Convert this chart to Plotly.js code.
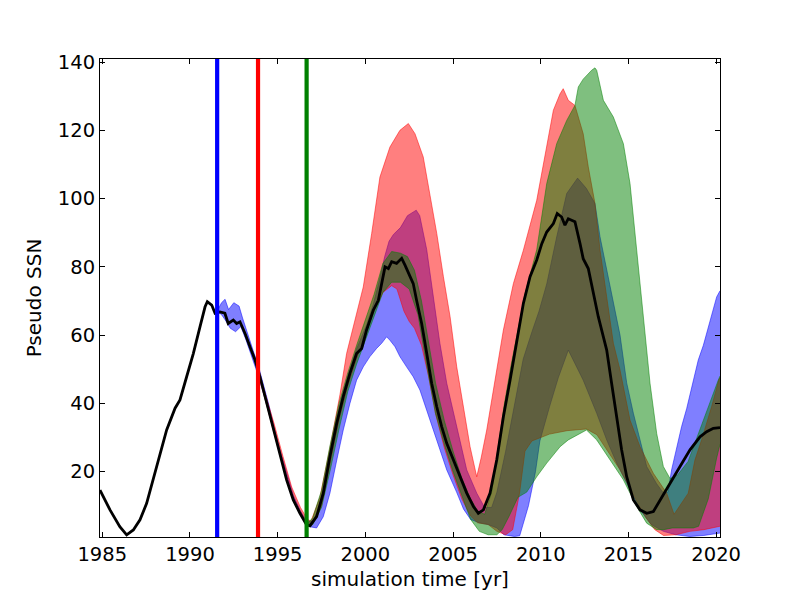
<!DOCTYPE html>
<html><head><meta charset="utf-8">
<script src="https://cdn.plot.ly/plotly-3.0.1.min.js"></script>
<style>html,body{margin:0;padding:0;background:#fff;} #chart{width:800px;height:597px;}</style>
</head><body><div id="chart"></div>
<script>
// observed / reference pseudo SSN  [year, value]
const blackObs = [[1984.87,14.6],[1985.44,8.8],[1986.0,3.9],[1986.39,1.5],[1986.77,2.9],[1987.15,5.9],[1987.53,10.7],[1987.9,17.6],[1988.29,25.4],[1988.67,32.2],[1989.15,38.6],[1989.43,41.0],[1989.81,47.8],[1990.19,54.6],[1990.57,62.4],[1990.86,68.3],[1990.99,69.8],[1991.24,68.8],[1991.43,66.4],[1991.71,66.8],[1991.99,66.4],[1992.18,63.4],[1992.47,64.4],[1992.66,63.4],[1992.85,63.9],[1993.14,60.5],[1993.42,56.6],[1993.71,52.7],[1993.99,47.8],[1994.28,42.0],[1994.56,36.1],[1994.85,30.2],[1995.13,24.4],[1995.51,17.6],[1995.89,11.7],[1996.27,7.8],[1996.65,4.4],[1996.84,4.1],[1997.22,6.8],[1997.6,13.7],[1997.98,24.4],[1998.37,34.2],[1998.74,42.0],[1999.12,48.8],[1999.5,54.6],[1999.79,56.1],[2000.07,61.5],[2000.45,67.3],[2000.74,70.2],[2000.93,75.1],[2001.12,80.0],[2001.31,79.5],[2001.5,81.5],[2001.78,81.0],[2002.07,82.5],[2002.26,80.5],[2002.45,78.1],[2002.73,75.1],[2002.92,70.2],[2003.21,63.4],[2003.5,54.6],[2003.78,45.9],[2004.07,39.0],[2004.35,33.2],[2004.64,28.3],[2005.02,23.4],[2005.4,18.5],[2005.78,13.7],[2006.16,9.8],[2006.44,7.8],[2006.73,8.8],[2007.11,13.7],[2007.49,23.4],[2007.87,36.1],[2008.25,46.8],[2008.63,58.5],[2009.01,69.3],[2009.39,77.1],[2009.77,82.0],[2010.06,86.8],[2010.34,90.2],[2010.72,92.7],[2010.94,95.6],[2011.19,94.6],[2011.38,92.2],[2011.57,94.1],[2011.95,93.2],[2012.24,86.8],[2012.42,82.4],[2012.71,79.5],[2013.0,72.2],[2013.28,65.4],[2013.57,59.5],[2013.76,55.6],[2014.04,45.9],[2014.33,36.1],[2014.61,26.4],[2014.9,18.5],[2015.28,11.7],[2015.66,8.8],[2016.04,7.8],[2016.42,8.3],[2016.8,11.7],[2017.37,16.6],[2017.94,21.5],[2018.51,26.4],[2019.08,30.2],[2019.46,31.7],[2019.84,32.7],[2020.22,32.9]];

// blue ensemble (start 1991.55) envelope
const blueLower = [[1991.55,67],[1991.8,66],[1992.0,64.5],[1992.3,62],[1992.6,61],[1992.9,62.5],[1993.2,58.5],[1993.5,54],[1993.9,48],[1994.3,41],[1994.8,31.5],[1995.3,22],[1995.8,13.5],[1996.3,8],[1996.65,4.5],[1996.9,3.8],[1997.22,3.5],[1997.6,6.8],[1997.98,13.7],[1998.37,23.4],[1998.74,32.2],[1999.12,40],[1999.5,46.8],[1999.88,50.7],[2000.26,53.7],[2000.64,56.1],[2000.93,57.6],[2001.21,59.5],[2001.4,58.5],[2001.69,56.6],[2001.97,53.7],[2002.35,50.7],[2002.73,47.8],[2003.11,43.9],[2003.5,38.1],[2003.87,32.2],[2004.25,26.4],[2004.64,20.5],[2005.2,14],[2005.6,9],[2006.0,6],[2006.5,5],[2007.0,4.5],[2007.5,3.5],[2007.9,1.5],[2008.5,1],[2008.8,1.2],[2009.3,10],[2009.7,20],[2009.95,29],[2010.5,39],[2011.0,47.5],[2011.57,55.6],[2012.42,46.8],[2013.19,37.1],[2013.76,29.3],[2014.33,22.5],[2015.09,14.6],[2015.66,8.8],[2016.3,4.5],[2017.0,2.5],[2017.7,1.5],[2018.5,1],[2019.3,1.3],[2020.22,2]];
const blueUpper = [[1991.55,67],[1991.8,69.5],[1992.0,70.5],[1992.2,67.5],[1992.5,69.5],[1992.8,68.5],[1993.0,65],[1993.3,60],[1993.6,55.5],[1993.9,51],[1994.2,45.5],[1994.5,39.5],[1994.8,33],[1995.1,27],[1995.5,20],[1995.9,13],[1996.3,8.5],[1996.65,5.5],[1997.0,5.5],[1997.3,8.5],[1997.6,14.5],[1997.98,25.5],[1998.37,35.5],[1998.74,43.5],[1999.12,50],[1999.5,56],[2000.07,63],[2000.45,69],[2000.8,76],[2001.1,83],[2001.35,87.5],[2001.6,89.5],[2002.0,91.5],[2002.4,95],[2002.9,96.6],[2003.1,95],[2003.5,85],[2003.87,71.2],[2004.25,57.6],[2004.64,45.9],[2005.2,33.2],[2005.78,20.5],[2006.35,13.7],[2006.8,9.5],[2007.2,9.5],[2007.5,14],[2008.0,26],[2008.5,40],[2009.0,53],[2009.5,61],[2009.9,67],[2010.34,75],[2010.91,88.8],[2011.48,101.5],[2012.1,106],[2012.6,103],[2013.09,98.6],[2013.38,88.8],[2013.76,79],[2014.14,69.3],[2014.52,60],[2014.9,46],[2015.28,37.1],[2016.04,21.5],[2016.6,16.5],[2017.0,13.7],[2017.25,14],[2017.46,20.5],[2018.03,33.2],[2018.32,38.5],[2018.6,44.5],[2018.98,52.7],[2019.27,57],[2020.03,71.2],[2020.22,73]];

// red ensemble (start 1993.88) envelope
const redLower = [[1993.88,49],[1994.3,41],[1994.8,31],[1995.3,21.5],[1995.8,13],[1996.3,8],[1996.7,4.5],[1997.0,5],[1997.5,10],[1998.0,22],[1998.5,35],[1999.0,45],[1999.5,53],[2000.0,60],[2000.5,67],[2001.0,72.5],[2001.5,74.5],[2001.8,73.5],[2002.2,67],[2002.5,64],[2002.8,62],[2003.2,57],[2003.6,48],[2004.0,37],[2004.5,27],[2005.0,19],[2005.5,12],[2006.0,7],[2006.4,5],[2007.0,4.5],[2007.5,2.5],[2008.0,1.5],[2008.4,3],[2008.8,14],[2009.1,26],[2009.5,29],[2010.0,30],[2010.5,31],[2011.5,32],[2012.6,32.5],[2013.2,30.8],[2013.9,25.2],[2014.5,20.7],[2015.0,16],[2015.5,11],[2016.0,6.5],[2016.5,3],[2017.0,1.3],[2017.7,1.5],[2018.5,2.5],[2019.3,3],[2020.22,4]];
const redUpper = [[1993.88,50],[1994.3,43],[1994.8,34],[1995.3,24.5],[1995.8,15.5],[1996.3,9.5],[1996.7,6],[1996.9,5.5],[1997.41,12.5],[1997.98,27],[1998.55,42.5],[1998.93,54.6],[1999.31,62.4],[1999.88,74.1],[2000.36,89.8],[2000.83,106.3],[2001.4,115.1],[2001.97,120],[2002.45,122],[2002.83,119],[2003.3,112.2],[2003.68,101.5],[2004.07,89.8],[2004.45,77.1],[2004.83,65.4],[2005.21,50.7],[2005.59,39],[2005.97,27.3],[2006.35,18.5],[2006.6,24],[2006.92,32.2],[2007.58,51.7],[2007.87,61.5],[2008.44,75.1],[2009.01,84.9],[2009.77,99.5],[2010.34,116.1],[2010.72,125.9],[2011.1,130.7],[2011.28,132.2],[2011.57,128.8],[2011.95,127.3],[2012.42,119],[2012.71,109.3],[2013.09,98.6],[2013.38,84.9],[2013.76,71.2],[2014.14,57.6],[2014.52,49.8],[2015.09,35.1],[2015.66,27.3],[2016.42,19.5],[2017.18,13.7],[2017.6,7.5],[2018.41,13.7],[2018.79,23.4],[2019.17,29.3],[2019.74,39],[2020.15,46.8],[2020.22,47.5]];

// green ensemble (start 1996.65) envelope
const greenLower = [[1996.65,4],[1997.0,4.5],[1997.5,9.5],[1998.0,20.5],[1998.5,32.5],[1999.0,43.5],[1999.5,51.5],[2000.0,58.5],[2000.5,65.5],[2001.0,72.5],[2001.5,75.5],[2002.0,75.5],[2002.5,73.5],[2003.0,66],[2003.5,51],[2004.0,37],[2004.5,28],[2005.0,20],[2005.5,13],[2006.0,6],[2006.5,2.5],[2007.0,1.5],[2007.5,1.5],[2007.8,3],[2008.2,7],[2008.7,12.5],[2009.2,14],[2009.77,18.5],[2010.34,22.5],[2011.1,27.3],[2011.57,29.3],[2012.61,32.2],[2013.19,29.3],[2013.95,23.4],[2014.71,17.6],[2015.47,9.8],[2016.04,4.9],[2016.61,3],[2017.0,3],[2017.5,3.5],[2018.0,3.5],[2018.7,3.5],[2019.0,4],[2019.55,12],[2020.03,24],[2020.22,28]];
const greenUpper = [[1996.65,4.5],[1997.0,6.5],[1997.5,14.5],[1997.98,27.5],[1998.5,40],[1999.0,49],[1999.5,57],[2000.0,64.5],[2000.5,72],[2001.0,81],[2001.5,84.5],[2002.0,84],[2002.4,83],[2002.8,79],[2003.2,70],[2003.6,58],[2004.0,46],[2004.5,35],[2005.0,26],[2005.5,18],[2006.0,12],[2006.4,8.5],[2006.8,7.5],[2007.2,14],[2007.5,25],[2007.9,39],[2008.3,51],[2008.7,62],[2009.1,72],[2009.77,85],[2010.34,104.4],[2010.91,116.1],[2011.48,122.9],[2011.95,127.3],[2012.14,132.7],[2012.42,135],[2012.9,137.6],[2013.09,138.3],[2013.19,137.6],[2013.57,128.8],[2014.14,123.9],[2014.71,116.1],[2015.09,104.4],[2015.47,84.9],[2015.85,65.4],[2016.23,45.9],[2016.61,31.2],[2016.99,21.5],[2017.37,18],[2017.8,19],[2018.4,23],[2018.98,31.2],[2019.55,39],[2020.12,46.8],[2020.22,48]];

// start times of the three ensembles (vertical markers)
const startYears = [1991.55, 1993.88, 1996.65];
const startColors = ['#0000ff', '#ff0000', '#008000'];

const xTicks = [1985, 1990, 1995, 2000, 2005, 2010, 2015, 2020];
const yTicks = [20, 40, 60, 80, 100, 120, 140];

const xs = a => a.map(p => p[0]);
const ys = a => a.map(p => p[1]);

function band(lower, upper, rgba) {
  return [
    {x: xs(lower), y: ys(lower), type: 'scatter', mode: 'lines',
     line: {color: rgba, width: 1}, hoverinfo: 'skip', showlegend: false},
    {x: xs(upper), y: ys(upper), type: 'scatter', mode: 'lines', fill: 'tonexty',
     fillcolor: rgba, line: {color: rgba, width: 1}, hoverinfo: 'skip', showlegend: false}
  ];
}

const traces = [
  ...band(blueLower, blueUpper, 'rgba(0,0,255,0.5)'),
  ...band(redLower, redUpper, 'rgba(255,0,0,0.5)'),
  ...band(greenLower, greenUpper, 'rgba(0,128,0,0.5)'),
  {x: xs(blackObs), y: ys(blackObs), type: 'scatter', mode: 'lines',
   line: {color: '#000000', width: 2.8}, hoverinfo: 'skip', showlegend: false}
];

const shapes = startYears.map((yr, i) => ({
  type: 'line', xref: 'x', yref: 'paper', x0: yr, x1: yr, y0: 0, y1: 1,
  line: {color: startColors[i], width: 4.2}, layer: 'above'
}));

const fontFam = 'DejaVu Sans, sans-serif';
const layout = {
  width: 800, height: 597,
  margin: {l: 100, r: 80, t: 59, b: 60, pad: 0},
  paper_bgcolor: '#ffffff', plot_bgcolor: '#ffffff',
  font: {family: fontFam, size: 19.5, color: '#000000'},
  showlegend: false,
  xaxis: {
    range: [1984.87, 2020.22], tickvals: xTicks, ticktext: xTicks.map(String),
    ticks: 'inside', ticklen: 5, tickcolor: '#000', tickwidth: 1,
    showline: true, linecolor: '#000', linewidth: 1, mirror: 'allticks',
    showgrid: false, zeroline: false,
    tickfont: {family: fontFam, size: 19.5, color: '#000'},
    title: {text: 'simulation time [yr]', font: {family: fontFam, size: 20, color: '#000'}, standoff: 6}
  },
  yaxis: {
    range: [0.85, 140.9], tickvals: yTicks, ticktext: yTicks.map(String),
    ticks: 'inside', ticklen: 5, tickcolor: '#000', tickwidth: 1,
    showline: true, linecolor: '#000', linewidth: 1, mirror: 'allticks',
    showgrid: false, zeroline: false,
    tickfont: {family: fontFam, size: 19.5, color: '#000'},
    title: {text: 'Pseudo SSN', font: {family: fontFam, size: 20, color: '#000'}, standoff: 10}
  },
  shapes: shapes
};

Plotly.newPlot('chart', traces, layout, {displayModeBar: false, staticPlot: true});
</script>
</body></html>
